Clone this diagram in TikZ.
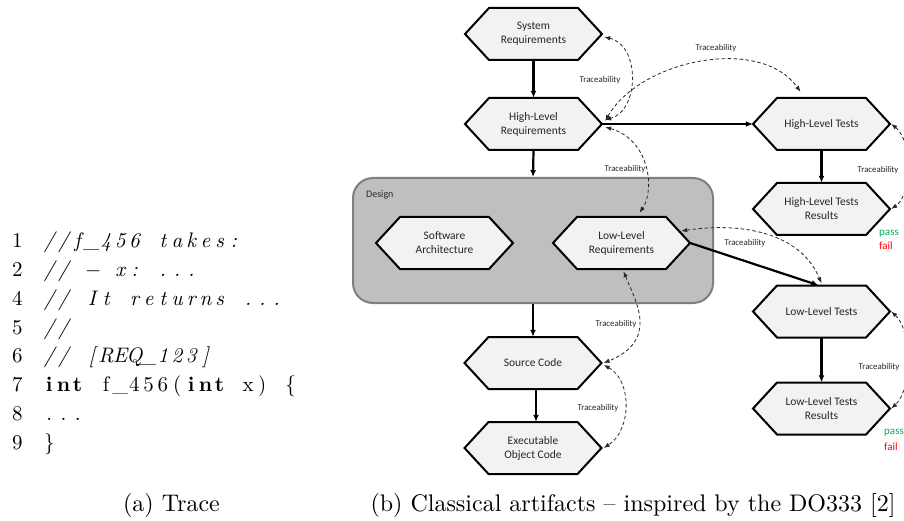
\documentclass[tikz,border=0pt]{standalone}
\usepackage{fontspec}
\newfontfamily\cali{Carlito}
\newfontfamily\lmten{lmroman10}[Extension=.otf, UprightFont=*-regular, ItalicFont=*-italic, BoldFont=*-bold, BoldItalicFont=*-bolditalic, Ligatures=TeX]
\usetikzlibrary{arrows.meta,calc}
\definecolor{hexfill}{HTML}{F2F2F2}
\definecolor{dgray}{HTML}{BFBFBF}
\definecolor{dborder}{HTML}{7F7F7F}
\definecolor{txt}{HTML}{262626}
\definecolor{passg}{HTML}{00B050}
\definecolor{failr}{HTML}{FF0000}
\newlength\cw \setlength\cw{14.2pt}
\ExplSyntaxOn
\NewDocumentCommand\fcol{m}{\str_map_inline:nn{#1}{\makebox[\cw][c]{##1}}}
\ExplSyntaxOff
\newcommand\hexn[4]{%
 \path[hexline] (#2-68.5,#3) -- (#2-44.5,#3-26) -- (#2+44.5,#3-26) -- (#2+68.5,#3) -- (#2+44.5,#3+26) -- (#2-44.5,#3+26) -- cycle;
 \node[hexbox] (#1) at (#2,#3) {#4};}
\newcommand\codeline[3]{\node[code,anchor=base west] (#1) at (42,#2) {#3};}
\begin{document}
\begin{tikzpicture}[x=1pt,y=-1pt,
 hexbox/.style={minimum width=137pt, minimum height=52pt, inner sep=0pt, align=center, font=\cali\fontsize{11.5}{14}\selectfont, text=txt},
 hexline/.style={draw=black, line width=2pt, fill=hexfill, line join=miter},
 flow/.style={line width=2.2pt, -{Latex[length=7pt,width=6pt]}},
 trace/.style={line width=0.8pt, draw=black!85, dash pattern=on 3.5pt off 2.5pt, {Latex[length=6pt,width=4.5pt]}-{Latex[length=6pt,width=4.5pt]}},
 tlab/.style={font=\cali\fontsize{8.8}{10}\selectfont, text=txt, inner sep=0pt},
 code/.style={font=\lmten\fontsize{21}{24}\selectfont, inner sep=0pt},
 capt/.style={font=\lmten\fontsize{24}{28}\selectfont, inner sep=0pt, anchor=base},
 pf/.style={font=\cali\fontsize{11}{12}\selectfont, inner sep=0pt, anchor=west}
]
\useasboundingbox (0,0) rectangle (904,521);

% ---- code listing ----
\foreach \n/\y in {1/247.5,2/276.5,4/305.5,5/334,6/362.5,7/391.5,8/420.5,9/449.5}
  {\node[code,anchor=base west] (ln\n) at (12,\y) {\n};}
\codeline{c1}{247.5}{\itshape\fcol{//f_456 takes:}}
\codeline{c2}{276.5}{\itshape\fcol{// − x: ...}}
\codeline{c4}{305.5}{\itshape\fcol{// It returns ...}}
\codeline{c5}{334}{\itshape\fcol{//}}
\codeline{c6}{362.5}{\itshape\fcol{// [REQ_123]}}
\codeline{c7}{391.5}{{\bfseries\fcol{int}}\fcol{ f_456(}{\bfseries\fcol{int}}\fcol{ x) }\makebox[\cw][c]{\{}}
\codeline{c8}{420.5}{\fcol{...}}
\codeline{c9}{449.5}{\makebox[\cw][c]{\}}}

% ---- captions ----
\node[capt] (capa) at (171.5,511) {(a) Trace};
\node[capt] (capb) at (633,511) {(b) Classical artifacts – inspired by the DO333 [2]};

% ---- design box ----
\node[draw=dborder, fill=dgray, line width=2pt, rounded corners=20pt, minimum width=360pt, minimum height=125pt, inner sep=0pt] (design) at (533,240.5) {};
\node[font=\cali\fontsize{10}{11}\selectfont, text=txt, anchor=west, inner sep=0pt] (dlab) at (366,195) {Design};

% ---- hexagons ----
\hexn{sys}{533.5}{34}{System\\Requirements}
\hexn{hlr}{533.5}{124}{High-Level\\Requirements}
\hexn{sa}{444.5}{243}{Software\\Architecture}
\hexn{llr}{621.5}{243}{Low-Level\\Requirements}
\hexn{sc}{533}{363}{Source Code}
\hexn{eoc}{533}{448}{Executable\\Object Code}
\hexn{hlt}{821.5}{124}{High-Level Tests}
\hexn{hltr}{821.5}{209}{High-Level Tests\\Results}
\hexn{llt}{821.5}{311.5}{Low-Level Tests}
\hexn{lltr}{821.5}{408.5}{Low-Level Tests\\Results}

% ---- flow arrows ----
\draw[flow] (sys.south) -- (hlr.north);
\draw[flow] (hlr.south) -- (design.north);
\draw[flow] (design.south) -- (sc.north);
\draw[flow] ([xshift=3pt]sc.south) -- ([xshift=3pt]eoc.north);
\draw[flow] (hlr.east) -- (hlt.west);
\draw[flow] (hlt.south) -- (hltr.north);
\draw[flow] (llt.south) -- (lltr.north);
\draw[flow] (llr.east) -- ([xshift=-3pt]llt.north);

% ---- traceability ----
\draw[trace] ([xshift=2pt,yshift=-3pt]sys.east) .. controls (640,45) and (640,110) .. ([xshift=3pt,yshift=4pt]hlr.east);
\draw[trace] ([xshift=3pt,yshift=3pt]hlr.east) .. controls (640,60) and (760,35) .. ([xshift=-21pt,yshift=6pt]hlt.north);
\draw[trace] ([xshift=3pt,yshift=-3pt]hlr.east) .. controls (650,140) and (655,190) .. ([xshift=18pt,yshift=4pt]llr.north);
\draw[trace] ([xshift=1pt]hlt.east) .. controls (912,140) and (912,195) .. ([xshift=1pt]hltr.east);
\draw[trace] ($(llr.east)+(-9,-12)$) .. controls (740,222) and (800,232) .. ([yshift=2pt]llt.north);
\draw[trace] ([xshift=2pt,yshift=-2pt]llr.south) .. controls (635,300) and (660,340) .. ([xshift=2pt]sc.east);
\draw[trace] ([xshift=2pt,yshift=-2pt]sc.east) .. controls (632,380) and (632,430) .. ([xshift=2pt]eoc.east);
\draw[trace] ([xshift=1pt]llt.east) .. controls (912,330) and (912,390) .. ([xshift=1pt]lltr.east);

\node[tlab] (t1) at (600,80) {Traceability};
\node[tlab] (t2) at (716,48) {Traceability};
\node[tlab] (t3) at (625,169) {Traceability};
\node[tlab] (t4) at (878,170) {Traceability};
\node[tlab] (t5) at (745,243) {Traceability};
\node[tlab] (t6) at (616,324) {Traceability};
\node[tlab] (t7) at (598,408) {Traceability};
\node[tlab] (t8) at (879,367) {Traceability};

% ---- pass / fail ----
\node[pf, text=passg] (p1) at (879,234) {pass};
\node[pf, text=failr] (f1) at (879,246) {fail};
\node[pf, text=passg] (p2) at (884,433) {pass};
\node[pf, text=failr] (f2) at (884,447) {fail};
\end{tikzpicture}
\end{document}
